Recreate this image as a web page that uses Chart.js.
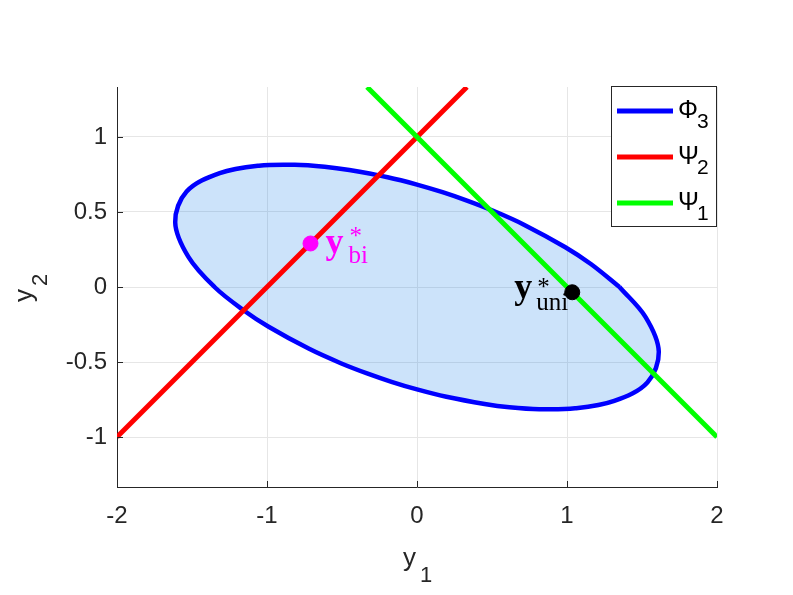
<!DOCTYPE html>
<html>
<head>
<meta charset="utf-8">
<script src="https://cdn.jsdelivr.net/npm/chart.js@4.4.0/dist/chart.umd.min.js"></script>
<style>
  html, body { margin: 0; padding: 0; background: #fff; }
  #wrap { width: 793px; height: 595px; }
</style>
</head>
<body>
<div id="wrap"><canvas id="chart" width="793" height="595"></canvas></div>
<script>
// axis ticks
const xTicks = [-2, -1, 0, 1, 2];
const yTicks = [-1, -0.5, 0, 0.5, 1];

// ellipse Phi_3
const ellipseX = [1.350, 1.159, 0.989, 0.716, 0.508, 0.333, 0.170, 0, -0.196, -0.451, -0.616, -0.815, -1.054, -1.315, -1.536, -1.612, -1.524,
  -1.350, -1.159, -0.989, -0.716, -0.508, -0.333, -0.170, 0, 0.196, 0.451, 0.616, 0.815, 1.054, 1.315, 1.536, 1.612, 1.524, 1.350];
const ellipseY = [0, 0.153, 0.265, 0.414, 0.508, 0.576, 0.632, 0.683, 0.732, 0.780, 0.802, 0.815, 0.809, 0.759, 0.636, 0.432, 0.201,
  0, -0.153, -0.265, -0.414, -0.508, -0.576, -0.632, -0.683, -0.732, -0.780, -0.802, -0.815, -0.809, -0.759, -0.636, -0.432, -0.201, 0];

// lines Psi_2 and Psi_1
const psi2X = [-2, 0.333];
const psi2Y = [-1, 1.333];
const psi1X = [-0.333, 2];
const psi1Y = [1.333, -1];

// optimal points
const biPoint = { x: -0.71, y: 0.29 };
const uniPoint = { x: 1.035, y: -0.035 };

const toXY = (xs, ys) => xs.map((x, i) => ({ x: x, y: ys[i] }));

const legendItems = [
  { sym: '\u03A6', sub: '3', color: '#0000ff' },
  { sym: '\u03A8', sub: '2', color: '#ff0000' },
  { sym: '\u03A8', sub: '1', color: '#00ff00' }
];

const axisColor = '#262626';
const font = '"Liberation Sans", Arial, sans-serif';
const serif = '"Liberation Serif", "DejaVu Serif", serif';

// axis titles, inward ticks, point labels, legend
const extras = {
  id: 'extras',
  afterDraw(chart) {
    const c = chart.ctx;
    const xs = chart.scales.x, ys = chart.scales.y;
    const a = chart.chartArea;
    c.save();

    // inward tick marks
    c.strokeStyle = axisColor;
    c.lineWidth = 1;
    c.beginPath();
    xTicks.forEach(v => {
      const px = Math.round(xs.getPixelForValue(v)) + 0.5;
      c.moveTo(px, a.bottom);
      c.lineTo(px, a.bottom - 6);
    });
    yTicks.forEach(v => {
      const py = Math.round(ys.getPixelForValue(v)) + 0.5;
      c.moveTo(a.left, py);
      c.lineTo(a.left + 6, py);
    });
    c.stroke();

    // point labels
    c.textBaseline = 'alphabetic';
    c.textAlign = 'left';
    const bx = xs.getPixelForValue(biPoint.x), by = ys.getPixelForValue(biPoint.y);
    c.fillStyle = '#ff00ff';
    c.font = 'bold 36px ' + serif;
    c.fillText('y', bx + 15, by + 10);
    c.font = '25px ' + serif;
    c.fillText('*', bx + 39, by + 1);
    c.fillText('bi', bx + 38, by + 20);

    const ux = xs.getPixelForValue(uniPoint.x), uy = ys.getPixelForValue(uniPoint.y);
    c.fillStyle = '#000000';
    c.font = 'bold 36px ' + serif;
    c.fillText('y', ux - 58, uy + 6);
    c.font = '25px ' + serif;
    c.fillText('*', ux - 35, uy + 3);
    c.fillText('uni', ux - 36, uy + 18);

    // axis titles
    c.fillStyle = axisColor;
    c.font = '26px ' + font;
    c.fillText('y', 403, 566);
    c.font = '22px ' + font;
    c.fillText('1', 420, 582);
    c.save();
    c.translate(32, 302);
    c.rotate(-Math.PI / 2);
    c.font = '26px ' + font;
    c.fillText('y', 0, 0);
    c.font = '22px ' + font;
    c.fillText('2', 16, 15);
    c.restore();

    // legend
    const lx = 611.5, ly = 86.5, lw = 105, lh = 140;
    c.fillStyle = '#ffffff';
    c.fillRect(lx, ly, lw, lh);
    c.strokeStyle = axisColor;
    c.lineWidth = 1;
    c.strokeRect(lx, ly, lw, lh);
    legendItems.forEach((it, i) => {
      const yy = 111 + i * 46;
      c.strokeStyle = it.color;
      c.lineWidth = 5;
      c.beginPath();
      c.moveTo(617, yy);
      c.lineTo(673, yy);
      c.stroke();
      c.fillStyle = '#000000';
      c.font = '25px ' + font;
      c.fillText(it.sym, 678, yy + 7);
      c.font = '21px ' + font;
      c.fillText(it.sub, 697, yy + 17);
    });

    c.restore();
  }
};

new Chart(document.getElementById('chart'), {
  type: 'scatter',
  data: {
    datasets: [
      {
        data: toXY(ellipseX, ellipseY),
        showLine: true,
        tension: 0.35,
        borderColor: '#0000ff',
        borderWidth: 4.5,
        backgroundColor: 'rgba(0,115,230,0.2)',
        fill: 'shape',
        pointRadius: 0,
        order: 5
      },
      {
        data: toXY(psi2X, psi2Y),
        showLine: true,
        borderColor: '#ff0000',
        borderWidth: 5,
        pointRadius: 0,
        order: 4
      },
      {
        data: toXY(psi1X, psi1Y),
        showLine: true,
        borderColor: '#00ff00',
        borderWidth: 5,
        pointRadius: 0,
        order: 3
      },
      {
        data: [biPoint],
        pointRadius: 7.5,
        pointBackgroundColor: '#ff00ff',
        pointBorderColor: '#ff00ff',
        order: 2
      },
      {
        data: [uniPoint],
        pointRadius: 7.5,
        pointBackgroundColor: '#000000',
        pointBorderColor: '#000000',
        order: 1
      }
    ]
  },
  options: {
    responsive: false,
    animation: false,
    layout: { padding: { top: 87, right: 76, left: 0, bottom: 0 } },
    plugins: {
      legend: { display: false },
      tooltip: { enabled: false }
    },
    scales: {
      x: {
        type: 'linear',
        min: -2,
        max: 2,
        afterBuildTicks: s => { s.ticks = xTicks.map(v => ({ value: v })); },
        afterFit: s => { s.height = 108; },
        grid: { color: '#e6e6e6', drawTicks: false },
        border: { display: true, color: axisColor, width: 1 },
        ticks: {
          color: axisColor,
          padding: 15,
          font: { family: font, size: 24 },
          callback: v => String(v)
        }
      },
      y: {
        type: 'linear',
        min: -1.3333,
        max: 1.3333,
        afterBuildTicks: s => { s.ticks = yTicks.map(v => ({ value: v })); },
        afterFit: s => { s.width = 117; },
        grid: { color: '#e6e6e6', drawTicks: false },
        border: { display: true, color: axisColor, width: 1 },
        ticks: {
          color: axisColor,
          padding: 10,
          font: { family: font, size: 24 },
          callback: v => String(v)
        }
      }
    }
  },
  plugins: [extras]
});
</script>
</body>
</html>
